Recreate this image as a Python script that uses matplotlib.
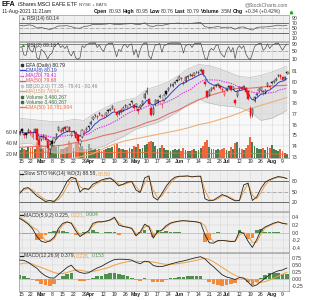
import matplotlib
matplotlib.use('Agg')
import matplotlib.pyplot as plt
from matplotlib.lines import Line2D
import numpy as np
import pandas as pd

plt.rcParams['font.family'] = ['Liberation Sans', 'DejaVu Sans']

# ---------------- data ----------------
holidays = ['2021-02-15', '2021-04-02', '2021-05-31', '2021-07-05']
sessions = pd.bdate_range('2021-02-12', '2021-08-11')
sessions = sessions[~sessions.isin(pd.to_datetime(holidays))]

opens = [75.1,75.6,75.1,75.2,75.3,75.4,74.9,75.3,75.6,74.6,74.7,75.0,74.9,74.5,73.7,74.5,74.4,75.0,75.5,75.3,
         75.4,75.8,75.4,75.8,75.0,75.3,75.3,75.0,74.2,74.9,75.3,75.5,75.9,76.1,76.5,76.9,76.8,77.0,76.8,76.8,
         76.9,77.3,77.4,77.6,77.5,77.2,77.0,77.4,77.4,77.7,77.6,77.8,78.2,77.8,77.7,77.5,77.6,77.9,78.5,79.0,
         78.4,77.6,77.0,77.9,78.1,78.6,77.9,78.3,79.1,79.2,79.7,79.6,79.9,80.2,80.3,80.3,80.0,80.1,80.4,80.6,
         80.6,80.6,80.9,80.8,81.0,81.1,80.0,79.1,78.8,79.2,79.5,79.6,79.7,79.6,79.3,78.8,79.2,79.6,79.6,79.3,
         78.3,78.7,79.3,79.5,79.4,79.4,79.1,77.6,77.0,78.2,78.8,79.1,79.2,79.1,79.0,79.6,79.6,79.9,80.0,80.2,
         80.5,80.6,80.4,80.3,80.93]
highs = [75.5,75.7,75.2,75.3,75.7,75.5,75.4,75.7,75.7,74.8,75.0,75.1,75.0,74.7,74.3,74.7,74.9,75.2,75.9,75.6,
         75.8,75.9,75.9,75.9,75.3,75.5,75.4,75.1,74.7,75.6,75.5,75.8,76.0,76.4,76.8,77.0,76.9,77.2,77.0,76.9,
         77.2,77.4,77.6,77.8,77.6,77.3,77.4,77.5,77.7,77.9,77.8,78.0,78.3,77.9,78.0,77.6,77.9,78.3,79.0,79.5,
         78.5,77.7,77.7,78.4,78.4,78.9,78.3,78.9,79.2,79.5,79.9,79.9,80.1,80.3,80.6,80.4,80.1,80.5,80.6,80.8,
         80.7,80.9,81.0,81.0,81.3,81.2,80.3,79.2,79.3,79.5,79.6,79.8,79.9,79.7,79.4,79.1,79.4,79.7,79.7,79.6,
         78.4,79.2,79.6,79.6,79.7,79.5,79.2,77.7,77.6,78.7,79.0,79.4,79.5,79.2,79.3,80.0,79.7,80.1,80.2,80.4,
         80.7,80.7,80.5,80.5,80.95]
lows = [75.0,75.2,74.8,74.8,75.2,75.0,74.7,75.2,74.5,73.9,74.5,74.6,74.5,73.5,73.3,74.0,74.3,74.8,75.4,75.2,
        75.3,75.5,75.3,75.3,74.9,75.1,74.7,74.4,74.0,74.8,75.1,75.4,75.6,76.0,76.4,76.7,76.5,76.9,76.7,76.6,
        76.8,77.1,77.3,77.5,77.2,76.7,76.9,77.0,77.3,77.6,77.5,77.7,77.9,77.5,77.6,77.0,77.5,77.8,78.4,78.9,
        77.8,76.8,76.9,77.8,78.0,78.5,77.6,78.2,78.8,79.1,79.5,79.5,79.8,80.0,80.2,80.1,79.7,80.0,80.3,80.5,
        80.4,80.5,80.8,80.7,80.9,80.5,79.6,78.5,78.7,79.1,79.2,79.5,79.6,79.3,79.0,78.7,79.1,79.4,79.1,79.2,
        77.8,78.6,79.2,79.2,79.3,78.9,78.3,76.6,76.7,78.1,78.7,79.0,79.1,78.8,78.9,79.5,79.3,79.8,79.9,80.1,
        80.4,80.3,80.1,80.2,80.76]
closes = [75.3,75.4,75.0,75.0,75.5,75.3,75.2,75.6,74.6,74.1,74.9,74.8,74.6,73.8,74.1,74.2,74.8,75.1,75.8,75.5,
          75.7,75.6,75.8,75.4,75.2,75.4,74.8,74.5,74.6,75.5,75.4,75.7,75.8,76.3,76.7,76.9,76.7,77.1,76.9,76.8,
          77.1,77.3,77.5,77.7,77.4,76.9,77.3,77.2,77.6,77.8,77.7,77.9,78.1,77.6,77.9,77.3,77.8,78.2,78.9,79.1,
          77.9,76.9,77.6,78.3,78.3,78.7,78.2,78.8,78.9,79.4,79.7,79.8,80.0,80.1,80.4,80.3,79.9,80.4,80.5,80.6,
          80.5,80.8,80.9,80.9,81.1,80.7,79.8,78.6,79.2,79.4,79.3,79.7,79.8,79.4,79.2,79.0,79.3,79.5,79.2,79.5,
          78.0,79.1,79.5,79.3,79.6,79.0,78.4,76.8,77.5,78.6,78.9,79.3,79.4,79.0,79.2,79.9,79.5,79.9,80.1,80.3,
          80.6,80.4,80.2,80.45,80.79]
volumes_m = [27,31,29,27,32,30,33,29,42,50,35,31,34,46,44,37,36,32,35,29,
             28,31,33,43,37,31,39,41,33,34,29,28,37,31,27,28,26,29,25,27,
             29,31,30,33,35,38,31,29,28,27,26,31,29,34,32,37,29,31,35,37,
             41,44,42,34,29,31,36,30,27,26,25,27,29,26,28,25,30,26,24,25,
             27,28,25,26,30,34,41,45,33,29,28,27,29,26,28,31,27,25,32,29,
             40,42,31,29,27,31,36,50,42,34,30,28,29,31,27,33,30,36,28,27,
             25,29,24,22,20]

# weekly readings of the slower overlays
week_dates = ['2021-02-12','2021-02-22','2021-03-01','2021-03-08','2021-03-15','2021-03-22','2021-03-29',
              '2021-04-05','2021-04-12','2021-04-19','2021-04-26','2021-05-03','2021-05-10','2021-05-17',
              '2021-05-24','2021-06-01','2021-06-07','2021-06-14','2021-06-21','2021-06-28','2021-07-06',
              '2021-07-12','2021-07-19','2021-07-26','2021-08-02','2021-08-09','2021-08-11']
bb_upper = [76.6,76.5,76.4,76.3,76.3,76.5,76.4,77.0,77.5,78.0,78.3,78.5,79.3,79.6,80.0,80.6,81.2,81.6,
            81.5,81.2,80.8,80.5,80.4,80.6,80.9,81.3,81.46]
bb_lower = [74.2,74.3,73.8,73.4,73.3,73.5,73.5,73.7,74.0,74.5,75.0,75.6,75.9,76.2,76.7,77.3,77.9,78.4,
            78.0,77.8,77.7,77.6,77.2,76.4,76.6,77.1,77.35]
ma50 = [73.9,73.95,74.0,74.0,74.1,74.3,74.5,74.7,75.0,75.2,75.5,75.8,76.2,76.5,77.0,77.4,77.8,78.3,
        78.7,79.0,79.3,79.4,79.4,79.5,79.6,79.65,79.68]
ma150_dates = week_dates[5:]
ma150 = [72.9,73.1,73.3,73.8,74.2,74.5,74.7,74.9,75.1,75.3,75.5,75.7,76.0,76.2,76.5,76.8,77.1,77.5,
         77.8,78.1,78.4,78.54]
vol_ema_m = [21,21.5,22.5,23,23,23,22.5,22,22,22,22.5,22.5,22,21.5,21,21,21,21,20.5,20.5,20.5,20,20.5,
             20,19.5,19,18.8]

# indicators read every other session
rsi14 = [60,58,62,60,50,52,48,44,50,58,58,59,55,50,49,56,58,64,63,64,65,67,64,63,65,66,67,64,64,70,58,56,
         61,60,63,67,68,69,66,68,68,70,71,55,52,53,56,52,53,53,45,53,54,47,42,52,54,54,56,58,61,58,60.14]
sto_k = [45,60,62,50,38,30,22,25,22,35,55,80,92,88,50,60,57,72,78,84,88,90,80,67,72,78,80,55,48,90,96,35,
         26,45,66,82,92,95,95,96,93,95,95,30,24,26,34,42,37,30,24,25,70,75,25,35,60,78,85,90,94,92,88.58]
sto_d = [50,55,60,56,45,35,27,24,23,28,42,65,85,90,65,57,58,65,75,80,85,88,84,72,70,75,79,65,50,75,92,55,
         32,38,57,75,88,94,95,95,94,94,95,55,28,25,30,38,39,33,26,24,52,74,40,30,48,70,82,88,92,92,88.59]
macd5 = [0.37,0.30,0.22,0.10,-0.10,-0.22,-0.25,-0.21,-0.12,0.11,0.24,0.28,0.24,0.05,-0.10,-0.02,0.05,0.24,
         0.28,0.28,0.30,0.33,0.40,0.20,0.16,0.14,0.11,-0.08,0.02,0.22,0.15,-0.14,0.03,0.07,0.18,0.25,0.28,
         0.30,0.31,0.30,0.29,0.28,0.25,-0.05,-0.26,-0.27,-0.20,-0.20,-0.21,-0.23,-0.22,0.03,-0.02,-0.22,
         -0.38,-0.18,0.07,0.15,0.20,0.25,0.28,0.24,0.225]
macd5_sig = [0.40,0.33,0.25,0.14,0.08,-0.05,-0.20,-0.23,-0.16,0.03,0.20,0.27,0.26,0.11,-0.06,-0.04,0.03,
             0.18,0.27,0.28,0.29,0.32,0.37,0.26,0.17,0.15,0.12,-0.02,-0.01,0.15,0.18,-0.02,-0.03,0.06,0.14,
             0.23,0.27,0.29,0.31,0.30,0.29,0.28,0.26,0.18,-0.08,-0.24,-0.22,-0.20,-0.21,-0.22,-0.22,-0.05,
             0.00,-0.05,-0.25,-0.25,-0.03,0.12,0.18,0.23,0.27,0.25,0.221]
macd12 = [0.66,0.65,0.58,0.47,0.37,0.21,0.10,0.03,0.02,0.15,0.27,0.40,0.48,0.30,0.22,0.19,0.21,0.30,0.38,
          0.44,0.53,0.61,0.68,0.69,0.69,0.68,0.66,0.58,0.53,0.62,0.60,0.47,0.43,0.43,0.47,0.52,0.56,0.60,
          0.63,0.67,0.71,0.75,0.78,0.70,0.55,0.42,0.28,0.14,0.06,0.02,-0.03,0.04,0.02,-0.12,-0.27,-0.22,
          -0.10,0.02,0.14,0.22,0.28,0.31,0.379]
macd12_sig = [0.52,0.55,0.56,0.52,0.45,0.40,0.34,0.28,0.22,0.18,0.18,0.22,0.27,0.32,0.30,0.27,0.25,0.26,
              0.29,0.33,0.37,0.42,0.48,0.53,0.57,0.60,0.62,0.62,0.61,0.60,0.60,0.59,0.56,0.53,0.51,0.51,
              0.52,0.54,0.56,0.59,0.62,0.65,0.69,0.72,0.68,0.60,0.50,0.40,0.30,0.20,0.12,0.06,0.02,-0.02,
              -0.05,-0.12,-0.13,-0.10,-0.05,0.02,0.09,0.16,0.226]
# RSI(2) read every session
rsi2 = [70,75,30,28,80,55,45,80,15,5,60,50,35,8,30,40,75,85,95,70,80,65,80,40,25,50,15,7,15,80,
        70,85,90,96,97,98,70,85,60,50,80,90,94,96,60,20,60,50,80,88,70,85,90,30,60,15,60,85,96,97,
        25,8,50,85,85,92,45,80,85,93,96,97,98,98,98,85,40,80,85,88,70,90,94,94,96,55,12,4,50,65,
        55,80,85,45,30,18,55,75,45,70,10,65,80,65,80,35,15,4,35,75,85,92,94,55,65,90,65,80,88,93,
        96,75,55,75,89.16]

tick_dates = ['2021-02-16','2021-02-22','2021-03-01','2021-03-08','2021-03-15','2021-03-22','2021-03-29',
              '2021-04-01','2021-04-12','2021-04-19','2021-04-26','2021-05-03','2021-05-10','2021-05-17',
              '2021-05-24','2021-06-01','2021-06-07','2021-06-14','2021-06-21','2021-06-28','2021-07-01',
              '2021-07-12','2021-07-19','2021-07-26','2021-08-02','2021-08-09']
tick_labels = ['15','22','Mar','8','15','22','29','Apr','12','19','26','May','10','17','24','Jun','7',
               '14','21','28','Jul','12','19','26','Aug','9']

# ---------------- derived positions ----------------
pos = {d: i for i, d in enumerate(sessions)}
xi = np.arange(len(sessions))
xs2 = xi[::2]
xw = np.array([pos[pd.Timestamp(d)] for d in week_dates])
xw150 = np.array([pos[pd.Timestamp(d)] for d in ma150_dates])
xt = np.array([pos[pd.Timestamp(d)] for d in tick_dates])

o = np.array(opens); h = np.array(highs); l = np.array(lows); c = np.array(closes)
vol = np.array(volumes_m)
cs = pd.Series(c)
ema8 = cs.ewm(span=8, adjust=False).mean().values
ma20 = cs.rolling(20, min_periods=1).mean().values

# ---------------- figure ----------------
W, H = 312, 300
fig = plt.figure(figsize=(W / 100, H / 100), dpi=100)
fig.patch.set_facecolor('white')
L, R = 19, 289
XL = (-0.3, 125.0)
FS = 3.7
GRID = '#d6d6d6'

def panel(top, bottom, face='#efefef'):
    ax = fig.add_axes([L / W, 1 - bottom / H, (R - L) / W, (bottom - top) / H])
    ax.set_facecolor(face)
    ax.set_xlim(*XL)
    for s in ax.spines.values():
        s.set_color('#9a9a9a'); s.set_linewidth(0.5)
    ax.set_xticks([])
    ax.yaxis.tick_right()
    ax.tick_params(axis='y', length=0, labelsize=FS, pad=2, colors='#333333')
    for t in xt:
        ax.axvline(t, color=GRID, lw=0.4, zorder=0)
    return ax

def ftxt(x, y, s, **kw):
    kw.setdefault('fontsize', FS)
    kw.setdefault('va', 'center')
    return fig.text(x / W, 1 - y / H, s, **kw)

renderer = fig.canvas.get_renderer()

def seq(x, y, parts, size=FS, gap=1.2):
    for s, col, wt, *rest in parts:
        sz = rest[0] if rest else size
        t = ftxt(x, y, s, color=col, fontweight=wt, fontsize=sz)
        x += t.get_window_extent(renderer=renderer).width + gap
    return x

def icon(x0, x1, y, color, lw=0.9, ls='-'):
    fig.add_artist(Line2D([x0 / W, x1 / W], [1 - y / H] * 2, color=color, lw=lw, ls=ls))

# header
seq(2, 5, [('EFA', '#111111', 'bold', 5.0), ('iShares MSCI EAFE ETF', '#111111', 'normal', 3.8),
           ('NYSE + BATS', '#444444', 'normal', 3.2)], gap=2)
ftxt(288, 5, '@StockCharts.com', fontsize=3.6, color='#666666', ha='right')
ftxt(2, 11.3, '11-Aug-2021 11:21am', fontsize=3.6, color='#222222')
seq(94, 11.3, [('Open', '#111', 'bold'), ('80.93', '#333', 'normal'), ('High', '#111', 'bold'),
               ('80.95', '#333', 'normal'), ('Low', '#111', 'bold'), ('80.76', '#333', 'normal'),
               ('Last', '#111', 'bold'), ('80.79', '#333', 'normal'), ('Volume', '#111', 'bold'),
               ('3.5M', '#333', 'normal'), ('Chg', '#111', 'bold'), ('+0.34 (+0.42%)', '#333', 'normal')],
    size=3.7)
fig.add_artist(Line2D([290.5 / W], [1 - 11.5 / H], marker='^', color='#22aa22', ms=1.8, lw=0))

# ---- RSI(14)
ax = panel(15, 41)
ax.set_ylim(0, 100)
ax.set_yticks([10, 30, 50, 70, 90])
for lv in (70, 30):
    ax.axhline(lv, color='#555555', lw=0.6)
ax.axhline(50, color='#777777', lw=0.4, ls='-.')
ax.plot(xs2, rsi14, color='#555555', lw=0.5)
seq(21, 18.6, [('▲', '#3a8a3a', 'normal'), ('RSI(14) 60.14', '#333', 'normal')])

# ---- RSI(2)
ax = panel(42, 60.5)
ax.set_ylim(0, 100)
ax.set_yticks([10, 50, 90])
r2 = np.array(rsi2, dtype=float)
ax.fill_between(xi, r2, 90, where=r2 > 90, interpolate=True, color='#4f8f4f', lw=0)
ax.fill_between(xi, r2, 10, where=r2 < 10, interpolate=True, color='#f08a3c', lw=0)
ax.axhline(90, color='#555555', lw=0.5)
ax.axhline(10, color='#555555', lw=0.5)
ax.axhline(50, color='#777777', lw=0.4, ls='-.')
ax.plot(xi, r2, color='#444444', lw=0.45)
seq(21, 45.6, [('▲', '#3a8a3a', 'normal'), ('RSI(2) 89.16', '#333', 'normal')])

# ---- price + volume
top, bot = 61, 157.5
axv = fig.add_axes([L / W, 1 - bot / H, (R - L) / W, (bot - top) / H])
axv.set_facecolor('#f8f8f8')
axv.set_xlim(*XL)
axv.set_ylim(13, 189)
axv.set_xticks([])
axv.set_yticks([20, 40, 60])
axv.set_yticklabels(['20 M', '40 M', '60 M'])
axv.tick_params(axis='y', length=0, labelsize=FS, pad=1.5, colors='#333333')
for s in axv.spines.values():
    s.set_color('#9a9a9a'); s.set_linewidth(0.5)
for t in xt:
    axv.axvline(t, color=GRID, lw=0.4, zorder=0)
prev = np.concatenate([[c[0]], c[:-1]])
up = c >= prev
vcol = np.where(up, '#4e7d4e', '#f2643c')
axv.bar(xi, vol, width=0.85, bottom=0, color=vcol, lw=0, zorder=2)
axv.plot(xw, vol_ema_m, color='#f07040', lw=0.6, zorder=3)

axp = fig.add_axes([L / W, 1 - bot / H, (R - L) / W, (bot - top) / H])
axp.patch.set_visible(False)
axp.set_xlim(*XL)
axp.set_ylim(72.95, 81.93)
axp.set_xticks([])
axp.yaxis.tick_right()
axp.set_yticks(range(73, 82))
axp.tick_params(axis='y', length=0, labelsize=FS, pad=2, colors='#333333')
for s in axp.spines.values():
    s.set_visible(False)
for lv in range(73, 82):
    axv.axhline(13 + (lv - 72.95) / (81.93 - 72.95) * 176, color=GRID, lw=0.35, zorder=0)

axp.fill_between(xw, bb_lower, bb_upper, color='#cfcfcf', alpha=0.55, lw=0, zorder=1)
axp.plot(xw, bb_upper, color='#b5b5b5', lw=0.4, zorder=1)
axp.plot(xw, bb_lower, color='#b5b5b5', lw=0.4, zorder=1)
axp.plot(xw150, ma150, color='#e9b277', lw=0.8, zorder=2)
axp.plot(xw, ma50, color='#e2574f', lw=0.8, alpha=0.8, zorder=2)
axp.plot(xi, ma20, color='#e030e0', lw=0.8, ls=(0, (1.2, 1.0)), zorder=3)
axp.plot(xi, ema8, color='#3040c8', lw=0.7, zorder=3)

ccol = np.where(up, '#111111', '#ee1111')
axp.vlines(xi, l, h, colors=ccol, lw=0.4, zorder=4)
body_lo = np.minimum(o, c)
body_h = np.maximum(np.abs(c - o), 0.03)
face = np.where(c > o, 'white', ccol)
axp.bar(xi, body_h, bottom=body_lo, width=0.65, color=face, edgecolor=ccol, lw=0.35, zorder=5)
axp.plot([xi[-1] + 0.6], [c[-1]], marker='s', ms=2.0, mfc='#f2e030', mec='#333333', mew=0.3,
         clip_on=False, zorder=6)

# legend in price panel
leg = [('EFA (Daily) 80.79', '#222222', 'candle'),
       ('EMA(8) 80.19', '#3040c8', 'line'),
       ('MA(20) 79.41', '#d020d0', 'dot'),
       ('MA(50) 79.68', '#e2574f', 'line'),
       ('BB(20,2.0) 77.35 - 79.41 - 81.46', '#888888', 'box'),
       ('MA(150) 78.54', '#d9a060', 'line'),
       ('Volume 3,460,267', '#3f6f3f', 'vol'),
       ('Volume 3,460,267', '#3f6f3f', 'vol'),
       ('EMA(50) 18,781,994', '#f07040', 'line')]
for k, (txt, col, kind) in enumerate(leg):
    y = 65 + k * 5.3
    if kind == 'candle':
        fig.add_artist(Line2D([22 / W], [1 - y / H], marker='s', ms=1.6, color='#333', lw=0))
    elif kind == 'box':
        fig.add_artist(Line2D([22 / W], [1 - y / H], marker='s', ms=2.0, color='#c8c8c8', lw=0))
    elif kind == 'vol':
        fig.add_artist(Line2D([22 / W], [1 - y / H], marker='s', ms=1.8, color='#3f6f3f', lw=0))
    elif kind == 'dot':
        icon(20, 24.5, y, col, lw=0.9, ls=(0, (1, 0.8)))
    else:
        icon(20, 24.5, y, col, lw=0.9)
    ftxt(25.5, y, txt, color=col, fontsize=3.6)

# date row under price panel
for t, s in zip(xt, tick_labels):
    bold = not s.isdigit()
    axp.text(t, -0.012, s, transform=axp.get_xaxis_transform(), ha='center', va='top',
             fontsize=FS, fontweight='bold' if bold else 'normal', color='#222222', clip_on=False)

# ---- Slow STO
ax = panel(170, 210.5)
ax.set_ylim(-4, 113)
ax.set_yticks([20, 50, 80])
ax.axhline(80, color='#555555', lw=0.6)
ax.axhline(20, color='#555555', lw=0.6)
ax.axhline(50, color='#777777', lw=0.4, ls='-.')
ax.plot(xs2, sto_d, color='#f0a040', lw=0.7)
ax.plot(xs2, sto_k, color='#222222', lw=0.6)
icon(20, 23, 174, '#222')
seq(24, 174, [('Slow STO %K(14) %D(3) 88.58,', '#333', 'normal'), ('88.59', '#f0a040', 'normal')])

# ---- MACD(5,9,2)
ax = panel(211.5, 251.5)
ax.set_ylim(-0.485, 0.547)
ax.set_yticks([-0.4, -0.2, 0.0, 0.2, 0.4])
ax.set_yticklabels(['-0.4', '-0.2', '0.0', '0.2', '0.4'])
for v in (-0.4, -0.2, 0.2, 0.4):
    ax.axhline(v, color=GRID, lw=0.35, zorder=0)
m5 = np.array(macd5); s5 = np.array(macd5_sig); h5 = m5 - s5
ax.bar(xs2, h5, width=1.7, color=np.where(h5 >= 0, '#4f8f4f', '#f08a3c'), lw=0, zorder=1)
ax.axhline(0, color='#aaaaaa', lw=0.4)
ax.plot(xs2, s5, color='#f0a040', lw=0.7, zorder=2)
ax.plot(xs2, m5, color='#222222', lw=0.6, zorder=3)
icon(20, 23, 215, '#222')
seq(24, 215, [('MACD(5,9,2) 0.225,', '#333', 'normal'), ('0.221,', '#f0a040', 'normal'),
              ('0.004', '#4f8f4f', 'normal')])

# ---- MACD(12,26,9)
ax = panel(252.5, 290.5)
ax.set_ylim(-0.418, 0.929)
ax.set_yticks([-0.25, 0.0, 0.25, 0.5, 0.75])
ax.set_yticklabels(['-0.25', '0.00', '0.25', '0.50', '0.75'])
for v in (-0.25, 0.25, 0.5, 0.75):
    ax.axhline(v, color=GRID, lw=0.35, zorder=0)
m12 = np.array(macd12); s12 = np.array(macd12_sig); h12 = m12 - s12
ax.bar(xs2, h12, width=1.7, color=np.where(h12 >= 0, '#4f8f4f', '#f08a3c'), lw=0, zorder=1)
ax.axhline(0, color='#aaaaaa', lw=0.4)
ax.plot(xs2, s12, color='#f0a040', lw=0.7, zorder=2)
ax.plot(xs2, m12, color='#222222', lw=0.6, zorder=3)
icon(20, 23, 255.5, '#222')
seq(24, 255.5, [('MACD(12,26,9) 0.379,', '#333', 'normal'), ('0.226,', '#f0a040', 'normal'),
                ('0.153', '#4f8f4f', 'normal')])
for t, s in zip(xt, tick_labels):
    bold = not s.isdigit()
    ax.text(t, -0.03, s, transform=ax.get_xaxis_transform(), ha='center', va='top',
            fontsize=FS, fontweight='bold' if bold else 'normal', color='#222222', clip_on=False)

fig.savefig('out.png', dpi=100, facecolor='white')
